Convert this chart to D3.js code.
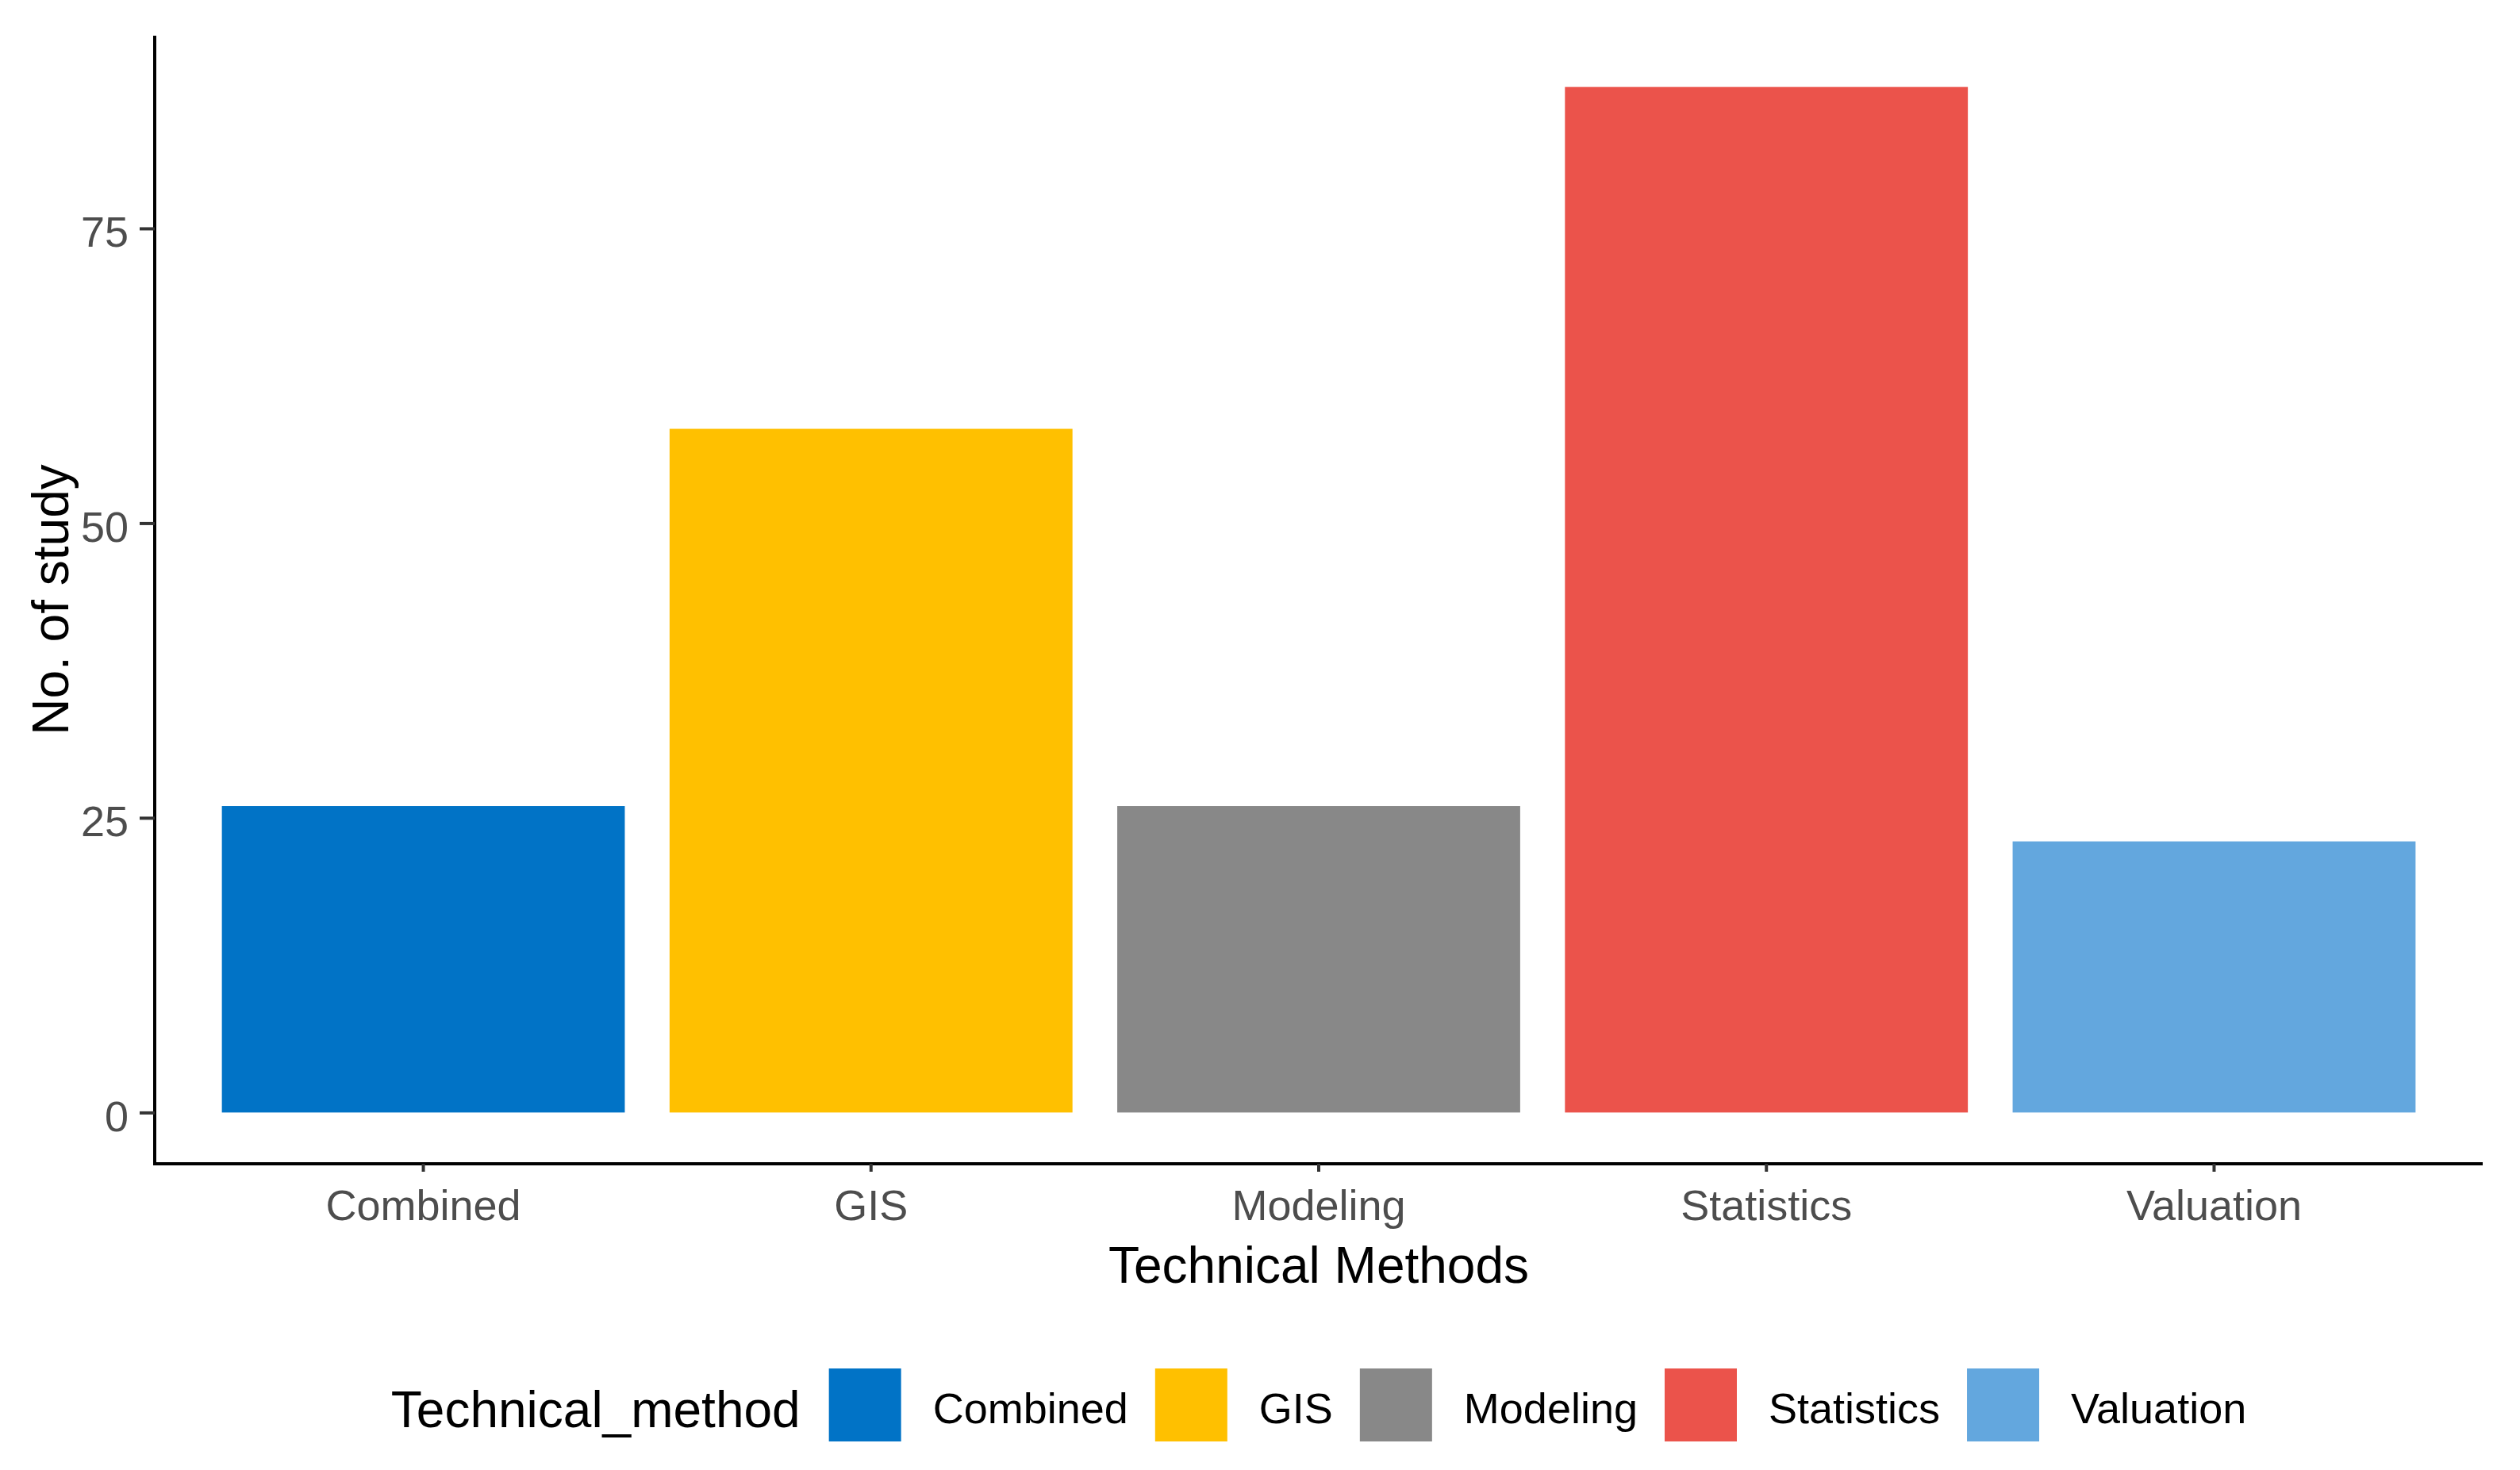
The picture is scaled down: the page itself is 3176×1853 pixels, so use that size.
<!DOCTYPE html>
<html>
<head>
<meta charset="utf-8">
<script src="https://cdn.jsdelivr.net/npm/d3@7"></script>
<style>
  html, body { margin: 0; padding: 0; background: #ffffff; }
  svg { display: block; font-family: "Liberation Sans", Arial, sans-serif; }
</style>
</head>
<body>
<svg id="chart" width="3176" height="1853"></svg>
<script>
// ---- data ----
const categories = ["Combined", "GIS", "Modeling", "Statistics", "Valuation"];
const studyCounts = [26, 58, 26, 87, 23];
const barColors = ["#0173C6", "#FFC000", "#888888", "#EB534B", "#63A7DE"];
const yTicks = [0, 25, 50, 75];
const xTitle = "Technical Methods";
const yTitle = "No. of study";
const legendTitle = "Technical_method";

// ---- layout ----
const W = 3176, H = 1853;
const panel = { left: 195, right: 3129, top: 45, bottom: 1467 };

const svg = d3.select("#chart");
svg.append("rect").attr("width", W).attr("height", H).attr("fill", "#ffffff");

const maxV = d3.max(studyCounts);
const pad = maxV * 0.05;
const y = d3.scaleLinear().domain([0 - pad, maxV + pad]).range([panel.bottom, panel.top]);
const x = d3.scaleBand().domain(categories).range([panel.left, panel.right])
  .paddingInner(0.1).paddingOuter(0.15);
const color = d3.scaleOrdinal().domain(categories).range(barColors);

const data = categories.map((c, i) => ({ cat: c, v: studyCounts[i] }));

// bars
svg.append("g").selectAll("rect").data(data).join("rect")
  .attr("x", d => x(d.cat))
  .attr("width", x.bandwidth())
  .attr("y", d => y(d.v))
  .attr("height", d => y(0) - y(d.v))
  .attr("fill", d => color(d.cat));

// x axis
const gx = svg.append("g").attr("transform", `translate(0,${panel.bottom})`)
  .call(d3.axisBottom(x).tickSize(10).tickSizeOuter(0));
gx.select(".domain").attr("stroke", "#000").attr("stroke-width", 4)
  .attr("d", `M${panel.left - 2},0H${panel.right}`);
gx.selectAll(".tick line").attr("stroke", "#333333").attr("stroke-width", 4);
gx.selectAll(".tick text").attr("y", 71).attr("dy", null)
  .attr("fill", "#4D4D4D").attr("font-size", 54).attr("font-family", "Liberation Sans, Arial, sans-serif");

// y axis
const gy = svg.append("g").attr("transform", `translate(${panel.left},0)`)
  .call(d3.axisLeft(y).tickValues(yTicks).tickSize(19).tickSizeOuter(0));
gy.select(".domain").attr("stroke", "#000").attr("stroke-width", 4)
  .attr("d", `M0,${panel.top}V${panel.bottom + 2}`);
gy.selectAll(".tick line").attr("stroke", "#333333").attr("stroke-width", 4);
gy.selectAll(".tick text").attr("x", -33).attr("dy", 23)
  .attr("fill", "#4D4D4D").attr("font-size", 54).attr("font-family", "Liberation Sans, Arial, sans-serif");

// axis titles
const cx = (panel.left + panel.right) / 2;
svg.append("text").attr("x", cx).attr("y", 1617).attr("text-anchor", "middle")
  .attr("font-size", 64).attr("fill", "#000").text(xTitle);
svg.append("text").attr("transform", `translate(86,${(panel.top + panel.bottom) / 2}) rotate(-90)`)
  .attr("text-anchor", "middle").attr("font-size", 64).attr("fill", "#000").text(yTitle);

// legend
const leg = svg.append("g");
const keyW = 91, keyH = 92, keyTop = 1725;
const titleText = leg.append("text").attr("x", 0).attr("y", 1799)
  .attr("font-size", 64).attr("fill", "#000").text(legendTitle);
let pos = titleText.node().getComputedTextLength() + 36;
categories.forEach((c, i) => {
  leg.append("rect").attr("x", pos).attr("y", keyTop).attr("width", keyW).attr("height", keyH)
    .attr("fill", color(c));
  pos += keyW + 40;
  const t = leg.append("text").attr("x", pos).attr("y", 1794)
    .attr("font-size", 54).attr("fill", "#000").text(c);
  pos += t.node().getComputedTextLength();
  if (i < categories.length - 1) pos += 34;
});
leg.attr("transform", `translate(${cx - pos / 2},0)`);
</script>
</body>
</html>
